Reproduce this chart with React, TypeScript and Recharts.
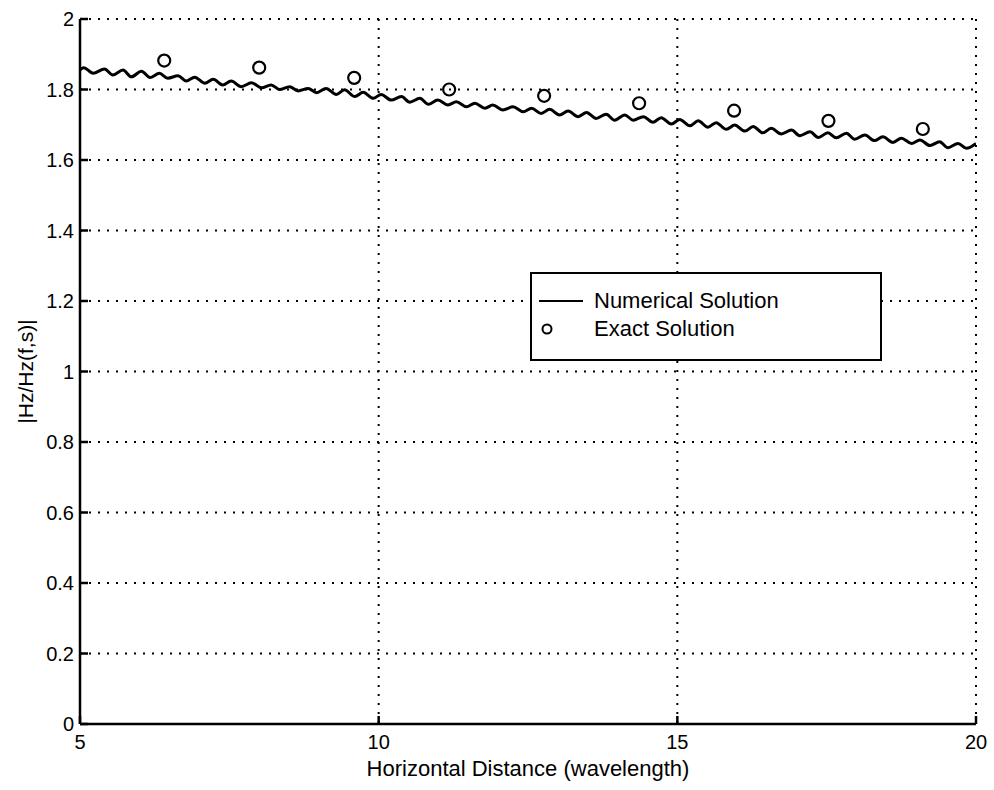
import {
  ComposedChart,
  Line,
  Scatter,
  XAxis,
  YAxis,
  CartesianGrid,
} from 'recharts';

// numerical solution: peaks and troughs
const numX = [
  5.0, 5.06, 5.22, 5.41, 5.55, 5.72, 5.86, 6.03, 6.17, 6.33,
  6.47, 6.64, 6.78, 6.92, 7.09, 7.23, 7.39, 7.53, 7.7, 7.87,
  8.04, 8.2, 8.34, 8.51, 8.65, 8.82, 8.96, 9.12, 9.29, 9.43,
  9.6, 9.74, 9.91, 10.04, 10.21, 10.38, 10.52, 10.69, 10.83, 10.99,
  11.16, 11.3, 11.47, 11.61, 11.78, 11.91, 12.08, 12.25, 12.42, 12.56,
  12.72, 12.86, 13.03, 13.17, 13.34, 13.48, 13.64, 13.81, 13.95, 14.12,
  14.26, 14.43, 14.59, 14.73, 14.9, 15.04, 15.21, 15.35, 15.51, 15.65,
  15.82, 15.96, 16.13, 16.27, 16.43, 16.57, 16.74, 16.91, 17.05, 17.22,
  17.36, 17.52, 17.66, 17.83, 17.97, 18.14, 18.3, 18.44, 18.61, 18.75,
  18.92, 19.06, 19.23, 19.39, 19.53, 19.7, 19.84, 20.0,
];
const numY = [
  1.856, 1.862, 1.846, 1.858, 1.841, 1.855, 1.836, 1.852, 1.834, 1.846,
  1.832, 1.839, 1.824, 1.835, 1.818, 1.829, 1.813, 1.824, 1.808, 1.819,
  1.805, 1.813, 1.8, 1.808, 1.796, 1.803, 1.791, 1.803, 1.786, 1.799,
  1.78, 1.792, 1.775, 1.786, 1.77, 1.78, 1.764, 1.775, 1.758, 1.77,
  1.756, 1.765, 1.751, 1.761, 1.747, 1.756, 1.742, 1.751, 1.737, 1.747,
  1.732, 1.744, 1.728, 1.739, 1.723, 1.735, 1.718, 1.73, 1.713, 1.728,
  1.713, 1.723, 1.707, 1.72, 1.702, 1.715, 1.697, 1.711, 1.693, 1.706,
  1.687, 1.699, 1.682, 1.695, 1.677, 1.69, 1.674, 1.685, 1.669, 1.68,
  1.664, 1.677, 1.663, 1.676, 1.659, 1.671, 1.655, 1.666, 1.65, 1.662,
  1.647, 1.657, 1.641, 1.652, 1.635, 1.647, 1.633, 1.647,
];

const exactX = [6.41, 8.0, 9.59, 11.18, 12.77, 14.36, 15.95, 17.53, 19.11];
const exactY = [1.882, 1.862, 1.833, 1.8, 1.782, 1.761, 1.74, 1.711, 1.688];

const xTicks = [5, 10, 15, 20];
const yTicks = [0, 0.2, 0.4, 0.6, 0.8, 1, 1.2, 1.4, 1.6, 1.8, 2];

const numerical = numX.map((x, i) => ({ x, y: numY[i] }));
const exact = exactX.map((x, i) => ({ x, y: exactY[i] }));

const FONT = '"Liberation Sans", Arial, Helvetica, sans-serif';

const YLabel = (props: any) => {
  const vb = props.viewBox;
  const cx = vb.x + 5;
  const cy = vb.y + vb.height / 2;
  return (
    <text
      x={cx}
      y={cy}
      transform={`rotate(-90 ${cx} ${cy})`}
      textAnchor="middle"
      dominantBaseline="central"
      fontSize={21}
      fontFamily={FONT}
      fill="#000"
    >
      |Hz/Hz(f,s)|
    </text>
  );
};

const XLabel = (props: any) => {
  const vb = props.viewBox;
  return (
    <text
      x={vb.x + vb.width / 2}
      y={vb.y + 44}
      textAnchor="middle"
      dominantBaseline="central"
      fontSize={22}
      fontFamily={FONT}
      fill="#000"
    >
      Horizontal Distance (wavelength)
    </text>
  );
};

const Circle = (props: any) => (
  <circle cx={props.cx} cy={props.cy} r={6} fill="none" stroke="#000" strokeWidth={2.2} />
);

export default function App() {
  return (
    <div style={{ position: 'absolute', left: 0, top: 0, width: 994, height: 790, background: '#fff' }}>
      <ComposedChart
        width={994}
        height={790}
        margin={{ top: 19, right: 18, bottom: 26, left: 20 }}
      >
        <CartesianGrid stroke="#000" strokeWidth={2} strokeDasharray="2 7" />
        <XAxis
          type="number"
          dataKey="x"
          domain={[5, 20]}
          ticks={xTicks}
          allowDataOverflow
          height={40}
          stroke="#000"
          strokeWidth={2.5}
          tickSize={-8}
          tickMargin={19}
          tick={{ fill: '#000', fontSize: 20, fontFamily: FONT }}
          label={{ content: XLabel }}
        />
        <YAxis
          type="number"
          dataKey="y"
          domain={[0, 2]}
          ticks={yTicks}
          allowDataOverflow
          width={60}
          stroke="#000"
          strokeWidth={2.5}
          tickSize={-8}
          tickMargin={14}
          tick={{ fill: '#000', fontSize: 20, fontFamily: FONT }}
          label={{ content: YLabel }}
        />
        <Line
          data={numerical}
          dataKey="y"
          type="monotone"
          stroke="#000"
          strokeWidth={3}
          dot={false}
          isAnimationActive={false}
        />
        <Scatter
          data={exact}
          dataKey="y"
          shape={Circle}
          isAnimationActive={false}
        />
      </ComposedChart>
      <div
        style={{
          position: 'absolute',
          left: 530,
          top: 272,
          width: 348,
          height: 85,
          border: '2px solid #000',
          background: '#fff',
          fontFamily: FONT,
          fontSize: 22,
          color: '#000',
        }}
      >
        <svg width={60} height={85} style={{ position: 'absolute', left: 0, top: 0 }}>
          <line x1={7} x2={51} y1={27} y2={27} stroke="#000" strokeWidth={2} />
          <circle cx={15} cy={55} r={4.5} fill="none" stroke="#000" strokeWidth={2} />
        </svg>
        <div style={{ position: 'absolute', left: 62, top: 14, lineHeight: '26px' }}>Numerical Solution</div>
        <div style={{ position: 'absolute', left: 62, top: 42, lineHeight: '26px' }}>Exact Solution</div>
      </div>
    </div>
  );
}
